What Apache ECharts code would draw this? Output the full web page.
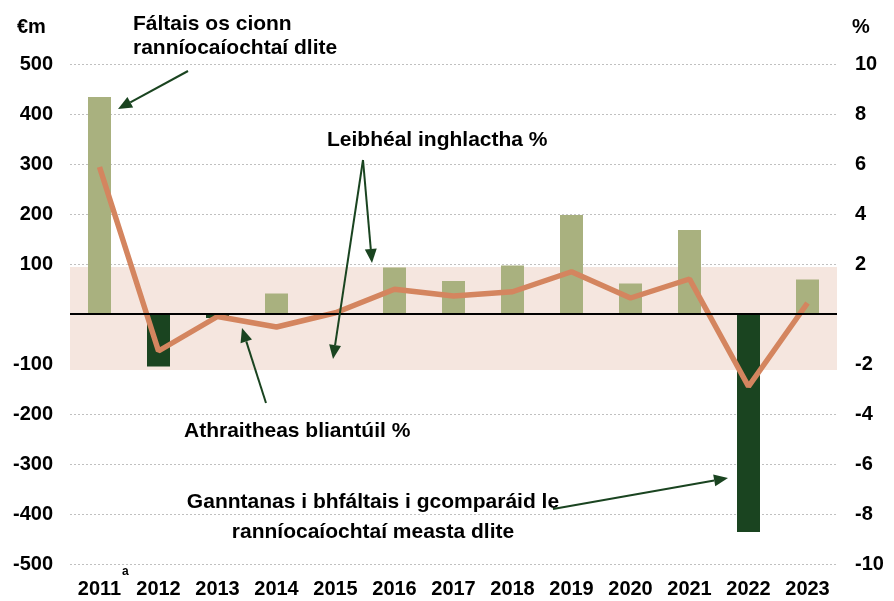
<!DOCTYPE html>
<html><head><meta charset="utf-8">
<script src="https://cdn.jsdelivr.net/npm/echarts@6/dist/echarts.min.js"></script>
<style>html,body{margin:0;padding:0;background:#fff}#c{width:894px;height:601px}</style>
</head><body><div id="c"></div>
<script>
const years = ['2011','2012','2013','2014','2015','2016','2017','2018','2019','2020','2021','2022','2023'];
const balance = [434, -105, -8, 41, 0, 93, 66, 97, 198, 61, 168, -436, 69];
const annualChange = [5.88, -1.48, -0.1, -0.52, 0.05, 0.99, 0.72, 0.89, 1.69, 0.64, 1.4, -2.9, 0.44];
const toleranceBand = [94, -112];
const leftTicks = {min: -500, max: 500, interval: 100};
const rightTicks = {min: -10, max: 10, interval: 2};

const F = '"Liberation Sans", Arial, sans-serif';
const POS = '#a9b17f', NEG = '#1a4420', LINE = '#d4855f', ARROW = '#1a4420';

function arrow(x1, y1, x2, y2) {
  const a = Math.atan2(y2 - y1, x2 - x1);
  const L = 14, W = 6;
  const bx = x2 - L * Math.cos(a), by = y2 - L * Math.sin(a);
  const px = -Math.sin(a) * W, py = Math.cos(a) * W;
  return [
    {type: 'line', shape: {x1: x1, y1: y1, x2: bx, y2: by}, style: {stroke: ARROW, lineWidth: 2}, z: 100},
    {type: 'polygon', shape: {points: [[x2, y2], [bx + px, by + py], [bx - px, by - py]]}, style: {fill: ARROW}, z: 100}
  ];
}
function txt(x, y, s, align, size) {
  return {type: 'text', x: x, y: y, z: 100, style: {text: s, font: 'bold ' + (size || 21) + 'px ' + F, fill: '#000', textAlign: align || 'left', textVerticalAlign: 'middle'}};
}

const chart = echarts.init(document.getElementById('c'), null, {renderer: 'canvas'});
chart.setOption({
  animation: false,
  backgroundColor: '#fff',
  grid: {left: 70, right: 57, top: 64, bottom: 37},
  xAxis: {
    type: 'category', data: years,
    axisLine: {show: false, onZero: false}, axisTick: {show: false},
    axisLabel: {margin: 15, fontFamily: F, fontWeight: 'bold', fontSize: 20, color: '#000'}
  },
  yAxis: [
    {type: 'value', position: 'left', min: leftTicks.min, max: leftTicks.max, interval: leftTicks.interval,
     axisLine: {show: false}, axisTick: {show: false},
     axisLabel: {margin: 17, fontFamily: F, fontWeight: 'bold', fontSize: 20, color: '#000', formatter: v => v === 0 ? '' : String(v)},
     splitLine: {lineStyle: {color: '#c0c0c0', type: [2, 2], width: 1}}},
    {type: 'value', position: 'right', min: rightTicks.min, max: rightTicks.max, interval: rightTicks.interval,
     axisLine: {show: false}, axisTick: {show: false},
     axisLabel: {margin: 18, fontFamily: F, fontWeight: 'bold', fontSize: 20, color: '#000', formatter: v => v === 0 ? '' : String(v)},
     splitLine: {show: false}}
  ],
  series: [
    {type: 'line', yAxisIndex: 0, data: [], z: 1, silent: true,
     markArea: {silent: true, itemStyle: {color: '#f5e6df'},
       data: [[{yAxis: toleranceBand[0]}, {yAxis: toleranceBand[1]}]]}},
    {type: 'bar', yAxisIndex: 0, barWidth: 23, z: 2,
     data: balance.map(v => ({value: v, itemStyle: {color: v < 0 ? NEG : POS}})),
     markLine: {silent: true, symbol: 'none', label: {show: false},
       lineStyle: {color: '#000', type: 'solid', width: 2}, data: [{yAxis: 0}]}},
    {type: 'line', yAxisIndex: 1, data: annualChange, z: 3, symbol: 'none',
     lineStyle: {color: LINE, width: 5.5}, itemStyle: {color: LINE}}
  ],
  graphic: [
    txt(17, 27, '€m', 'left', 20), txt(852, 27, '%', 'left', 20),
    txt(133, 24, 'Fáltais os cionn'), txt(133, 48, 'ranníocaíochtaí dlite'),
    txt(327, 140, 'Leibhéal inghlactha %'),
    txt(184, 431, 'Athraitheas bliantúil %'),
    txt(373, 502, 'Ganntanas i bhfáltais i gcomparáid le', 'center'),
    txt(373, 532, 'ranníocaíochtaí measta dlite', 'center'),
    {type: 'text', x: 122, y: 572, z: 100, style: {text: 'a', font: 'bold 12px ' + F, fill: '#000', textVerticalAlign: 'middle'}},
    ...arrow(188, 71, 118, 109),
    ...arrow(363, 160, 372, 263),
    ...arrow(363, 160, 333, 359),
    ...arrow(266, 403, 242, 328),
    ...arrow(553, 509, 728, 478)
  ]
});
</script></body></html>
